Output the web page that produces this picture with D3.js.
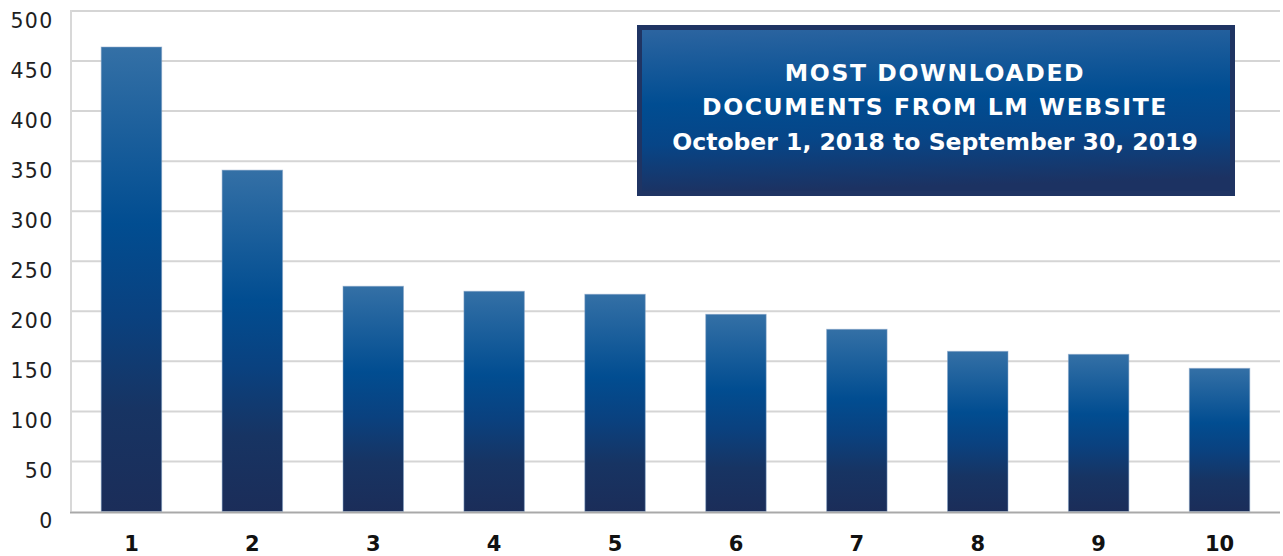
<!DOCTYPE html>
<html>
<head>
<meta charset="utf-8">
<script src="https://cdn.jsdelivr.net/npm/d3@7/dist/d3.min.js"></script>
<style>
  html, body { margin: 0; padding: 0; background: #fff; }
  svg { display: block; }
</style>
</head>
<body>
<svg id="chart" width="1283" height="556"></svg>
<script>
const categories = ["1", "2", "3", "4", "5", "6", "7", "8", "9", "10"];
const downloads = [464, 341, 225, 220, 217, 197, 182, 160, 157, 143];
const yTicks = [0, 50, 100, 150, 200, 250, 300, 350, 400, 450, 500];
const titleLines = ["MOST DOWNLOADED", "DOCUMENTS FROM LM WEBSITE", "October 1, 2018 to September 30, 2019"];

const W = 1283, H = 556;
const margin = { top: 11, right: 3, bottom: 44.5, left: 71 };
const svg = d3.select("#chart");
const defs = svg.append("defs");

const barGrad = defs.append("linearGradient").attr("id", "barGrad")
  .attr("x1", 0).attr("y1", 0).attr("x2", 0).attr("y2", 1);
[["0%", "#3470a6"], ["38%", "#014d91"], ["58%", "#0a417f"], ["78%", "#173463"], ["100%", "#1b2d59"]]
  .forEach(([o, c]) => barGrad.append("stop").attr("offset", o).attr("stop-color", c));

const boxGrad = defs.append("linearGradient").attr("id", "boxGrad")
  .attr("x1", 0.1).attr("y1", 0).attr("x2", 0.2).attr("y2", 1);
[["0%", "#2b64a0"], ["45%", "#004d92"], ["70%", "#074587"], ["100%", "#1c3262"]]
  .forEach(([o, c]) => boxGrad.append("stop").attr("offset", o).attr("stop-color", c));

const x = d3.scaleBand().domain(categories)
  .range([margin.left, W - margin.right])
  .paddingInner(0.5).paddingOuter(0.25);
const y = d3.scaleLinear().domain([0, 500]).range([H - margin.bottom, margin.top]);

// gridlines
svg.append("g").selectAll("line").data(yTicks.filter(d => d > 0)).join("line")
  .attr("x1", margin.left).attr("x2", W - 3)
  .attr("y1", d => y(d)).attr("y2", d => y(d))
  .attr("stroke", "#d5d5d5").attr("stroke-width", 2);

// left axis line
svg.append("line").attr("x1", margin.left).attr("x2", margin.left)
  .attr("y1", y(500) - 1).attr("y2", y(0))
  .attr("stroke", "#d8d8d8").attr("stroke-width", 2);

// y tick labels (sit slightly below their gridlines, as in the reference)
svg.append("g").selectAll("text").data(yTicks).join("text")
  .attr("x", 53.5).attr("y", d => y(d) + 16.5)
  .attr("text-anchor", "end")
  .attr("font-family", "'DejaVu Sans', sans-serif").attr("font-size", 20.5)
  .attr("letter-spacing", 1.3)
  .attr("fill", "#1e1e1e")
  .text(d => d);

// bars
svg.append("g").selectAll("rect").data(downloads).join("rect")
  .attr("x", (d, i) => x(categories[i]))
  .attr("y", d => y(d))
  .attr("width", x.bandwidth())
  .attr("height", d => y(0) - y(d))
  .attr("fill", "url(#barGrad)")
  .attr("stroke", "#7fa0c6").attr("stroke-opacity", 0.5).attr("stroke-width", 1);

// bottom axis line
svg.append("line").attr("x1", margin.left - 1).attr("x2", W - 3)
  .attr("y1", y(0) + 1).attr("y2", y(0) + 1)
  .attr("stroke", "#a9a9a9").attr("stroke-width", 2);

// x labels
svg.append("g").selectAll("text").data(categories).join("text")
  .attr("x", d => x(d) + x.bandwidth() / 2)
  .attr("y", 550.5)
  .attr("text-anchor", "middle")
  .attr("font-family", "'DejaVu Sans', sans-serif").attr("font-weight", 700)
  .attr("font-size", 21).attr("fill", "#111")
  .text(d => d);

// title box
const box = { x: 637, y: 25, w: 598, h: 171 };
svg.append("rect").attr("x", box.x).attr("y", box.y).attr("width", box.w).attr("height", box.h)
  .attr("fill", "#1f3463");
svg.append("rect").attr("x", box.x + 5).attr("y", box.y + 5).attr("width", box.w - 10).attr("height", box.h - 10)
  .attr("fill", "url(#boxGrad)");
svg.append("g").selectAll("text").data(titleLines).join("text")
  .attr("x", box.x + box.w / 2 - 1)
  .attr("y", (d, i) => 80.5 + i * 34.5)
  .attr("text-anchor", "middle")
  .attr("font-family", "'DejaVu Sans', sans-serif").attr("font-weight", 700)
  .attr("font-size", 23.5).attr("fill", "#fff")
  .attr("letter-spacing", d => d === d.toUpperCase() ? 1.6 : 0)
  .text(d => d);
</script>
</body>
</html>
